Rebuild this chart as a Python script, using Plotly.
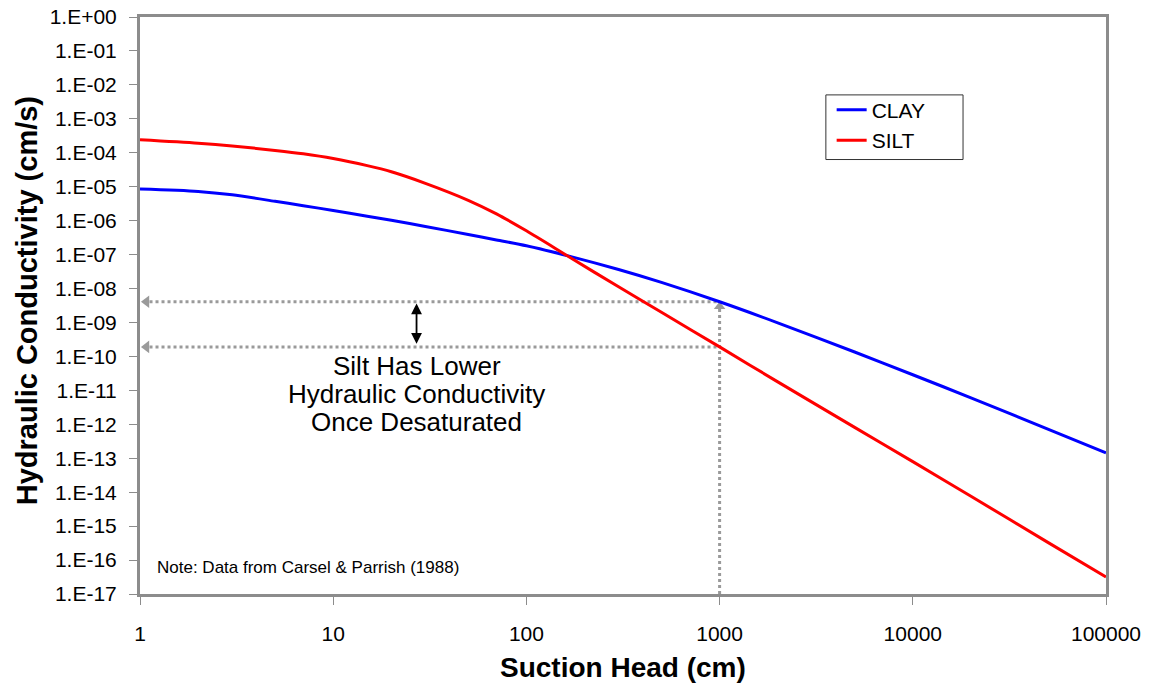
import numpy as np
import plotly.graph_objects as go

# Suction head (cm)
suction = [1, 2, 3, 5, 7, 10, 15, 20, 30, 50, 70, 100, 170, 300, 500,
           1000, 2000, 5000, 10000, 20000, 50000, 100000]
# log10 hydraulic conductivity (cm/s)
clay_log = [-5.07, -5.14, -5.24, -5.43, -5.56, -5.70, -5.87, -5.99, -6.17, -6.41,
            -6.57, -6.74, -7.06, -7.44, -7.82, -8.39, -9.01, -9.87, -10.54,
            -11.22, -12.14, -12.84]
silt_log = [-3.62, -3.72, -3.80, -3.93, -4.03, -4.17, -4.38, -4.56, -4.90, -5.40,
            -5.80, -6.30, -7.10, -7.95, -8.70, -9.72, -10.75, -12.09, -13.10,
            -14.12, -15.48, -16.50]
clay = [10 ** v for v in clay_log]
silt = [10 ** v for v in silt_log]

x_ticks = [1, 10, 100, 1000, 10000, 100000]
x_ticktext = ["1", "10", "100", "1000", "10000", "100000"]
y_exps = list(range(0, -18, -1))
y_ticks = [10.0 ** e for e in y_exps]
y_ticktext = ["1.E+00" if e == 0 else "1.E-%02d" % (-e) for e in y_exps]

# reference points at suction 1000
ref_x = 1000
clay_ref = 10 ** -8.39
silt_ref = 10 ** -9.72
arrow_x = 27

GREY = "#9a9a9a"
FONT = "Liberation Sans, Arial"
fig = go.Figure()

# dotted guide lines
for yv in (clay_ref, silt_ref):
    fig.add_trace(go.Scatter(x=[1.12, ref_x], y=[yv, yv], mode="lines",
                             line=dict(color=GREY, width=3, dash="dot"),
                             showlegend=False, hoverinfo="skip"))
    fig.add_trace(go.Scatter(x=[1.08], y=[yv], mode="markers",
                             marker=dict(symbol="triangle-left", size=11, color=GREY),
                             showlegend=False, hoverinfo="skip"))
fig.add_trace(go.Scatter(x=[ref_x, ref_x], y=[1e-17, clay_ref * 0.7], mode="lines",
                         line=dict(color=GREY, width=3, dash="dot"),
                         showlegend=False, hoverinfo="skip"))
fig.add_trace(go.Scatter(x=[ref_x], y=[clay_ref * 0.72], mode="markers",
                         marker=dict(symbol="triangle-up", size=10, color=GREY),
                         showlegend=False, hoverinfo="skip"))

fig.add_trace(go.Scatter(x=suction, y=clay, mode="lines", name="CLAY",
                         line=dict(color="#0000ff", width=3, shape="spline",
                                   smoothing=0.8)))
fig.add_trace(go.Scatter(x=suction, y=silt, mode="lines", name="SILT",
                         line=dict(color="#ff0000", width=3, shape="spline",
                                   smoothing=0.8)))

# double-headed arrow
fig.add_annotation(x=np.log10(arrow_x), y=np.log10(clay_ref) - 0.05,
                   ax=np.log10(arrow_x), ay=np.log10(silt_ref) + 0.05,
                   xref="x", yref="y", axref="x", ayref="y",
                   showarrow=True, arrowhead=2, arrowside="end+start",
                   arrowsize=1.2, arrowwidth=1.8, arrowcolor="black", text="")

lines_text = ["Silt Has Lower", "Hydraulic Conductivity", "Once Desaturated"]
lines_y = [-10.27, -11.12, -11.94]
for t, yl in zip(lines_text, lines_y):
    fig.add_annotation(x=np.log10(arrow_x), y=yl, xref="x", yref="y", text=t,
                       showarrow=False, xanchor="center", yanchor="middle",
                       font=dict(size=26, color="black", family=FONT))

fig.add_annotation(x=0.078, y=-16.22, xref="x", yref="y", xanchor="left",
                   yanchor="middle",
                   text="Note: Data from Carsel & Parrish (1988)", showarrow=False,
                   font=dict(size=17, color="black", family=FONT))

# axis titles
fig.add_annotation(x=0.5, y=-0.128, xref="paper", yref="paper",
                   xanchor="center", yanchor="middle",
                   text="<b>Suction Head (cm)</b>", showarrow=False,
                   font=dict(size=28, color="black", family=FONT))
fig.add_annotation(x=-0.117, y=0.509, xref="paper", yref="paper", textangle=-90,
                   xanchor="center", yanchor="middle",
                   text="<b>Hydraulic Conductivity (cm/s)</b>", showarrow=False,
                   font=dict(size=29, color="black", family=FONT))

# legend frame
fig.add_shape(type="rect", xref="paper", yref="paper",
              x0=0.710, x1=0.852, y0=0.753, y1=0.865,
              line=dict(color="#333333", width=1), fillcolor="rgba(0,0,0,0)")

fig.update_layout(
    width=1141, height=681,
    margin=dict(l=132, r=43, t=9, b=95),
    paper_bgcolor="white", plot_bgcolor="white",
    font=dict(family=FONT, color="black"),
    legend=dict(x=0.716, y=0.874, xanchor="left", yanchor="top",
                borderwidth=0, bgcolor="rgba(0,0,0,0)",
                font=dict(size=21, color="black"), tracegroupgap=0,
                itemwidth=30),
    xaxis=dict(type="log", range=[0, 5], tickvals=x_ticks, ticktext=x_ticktext,
               showgrid=False, showline=True, linecolor="#8c8c8c", linewidth=3,
               mirror=True, ticks="outside", ticklen=8, tickcolor="#8c8c8c",
               tickwidth=1, tickfont=dict(size=21), ticklabelstandoff=11,
               automargin=False, ticklabeloverflow="allow"),
    yaxis=dict(type="log", range=[-17, 0], tickvals=y_ticks, ticktext=y_ticktext,
               showgrid=False, showline=True, linecolor="#8c8c8c", linewidth=3,
               mirror=True, ticks="outside", ticklen=8, tickcolor="#8c8c8c",
               tickwidth=1, tickfont=dict(size=21), ticklabelstandoff=8,
               automargin=False, ticklabeloverflow="allow"),
)

fig.write_html("out.html")
